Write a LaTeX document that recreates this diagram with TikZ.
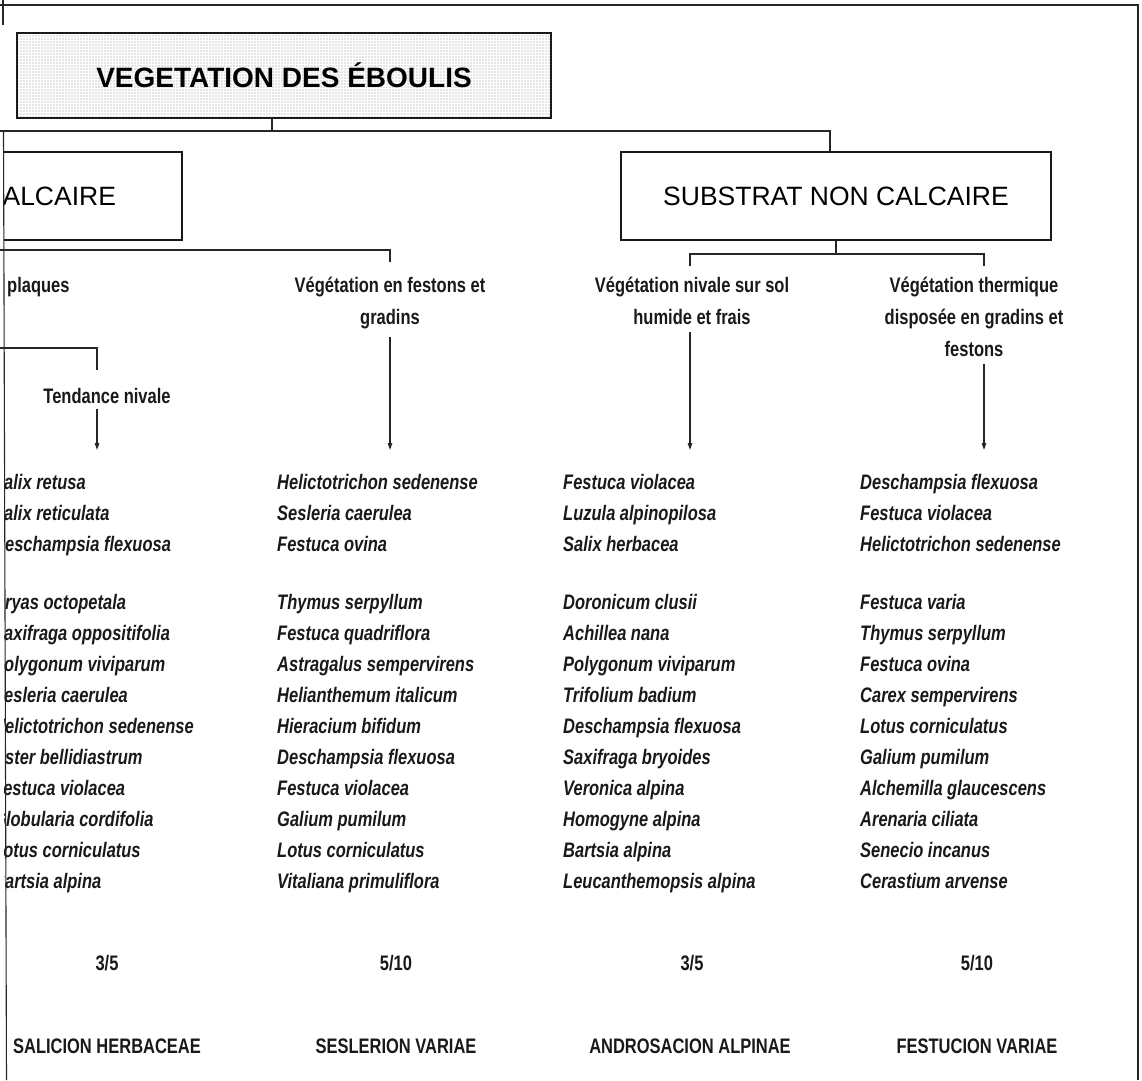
\documentclass[tikz,border=0pt]{standalone}
\usepackage{fontspec}
\setmainfont{Liberation Sans}
\newfontfamily\cnd[FakeStretch=0.785]{Liberation Sans}
\usetikzlibrary{arrows.meta,patterns.meta}

\begin{document}
\begin{tikzpicture}[x=1pt,y=-1pt,
  conn/.style={line width=1.1pt, black!85},
  arr/.style={conn, -{Triangle[length=7pt,width=4.5pt]}},
  boxline/.style={draw=black!90, line width=2pt},
  titlebox/.style={boxline, pattern={Dots[radius=0.55pt,distance=3pt]}, pattern color=black!45,
    font=\bfseries\fontsize{28}{32}\selectfont, inner sep=0pt},
  bigbox/.style={boxline, fill=white, font=\fontsize{26.5}{30}\selectfont, inner ysep=0pt},
  hdr/.style={font=\cnd\bfseries\fontsize{21}{32}\selectfont, text=black!90, inner sep=0pt, anchor=base},
  species/.style={font=\cnd\bfseries\itshape\fontsize{21}{31}\selectfont, text=black!90, inner sep=0pt, anchor=base west},
  lab/.style={font=\cnd\bfseries\fontsize{21}{24}\selectfont, text=black!90, inner sep=0pt, anchor=base},
]
\useasboundingbox (0,0) rectangle (1142,1080);

% outer frame
\draw[conn] (0,5) -- (1138,5) -- (1138,1080);

\begin{scope}
\clip (4,-2) rectangle (1144,1082);

% top level
\node[titlebox, minimum width=534pt, minimum height=85pt] (title) at (284,75.5) {VEGETATION DES ÉBOULIS};
\node[bigbox, anchor=east, minimum height=88pt, inner xsep=66pt] (calc) at (183,196) {SUBSTRAT CALCAIRE};
\node[bigbox, minimum width=430pt, minimum height=88pt] (sub) at (836,196) {SUBSTRAT NON CALCAIRE};
\end{scope}

\coordinate (tj) at (272,131);
\coordinate (tl) at (0,131);
\coordinate (sj) at (830,131);
\draw[conn] (title.south -| tj) -- (tj);
\draw[conn] (tl) -- (sj) -- (sj |- sub.north);

% branches under the two substrates
\coordinate (cl) at (0,250);
\coordinate (cr) at (390,250);
\coordinate (crt) at (390,262);
\draw[conn] (cl) -- (cr) -- (crt);

\coordinate (sb) at (836,254);
\coordinate (sbl) at (690,254);
\coordinate (sbr) at (984,254);
\draw[conn] (sub.south) -- (sb);
\draw[conn] (sbl |- 0,266) -- (sbl) -- (sbr) -- (sbr |- 0,266);

% sub-branch of the first column
\coordinate (ql) at (0,348);
\coordinate (qr) at (97,348);
\coordinate (qt) at (97,370);
\draw[conn] (ql) -- (qr) -- (qt);

\begin{scope}
\clip (4,-2) rectangle (1144,1082);

% column headers
\node[hdr, anchor=base west] (h1a) at (7,292) {plaques};
\node[hdr] (h2a) at (390,292) {Végétation en festons et};
\node[hdr] (h2b) at (390,324) {gradins};
\node[hdr] (h3a) at (692,292) {Végétation nivale sur sol};
\node[hdr] (h3b) at (692,324) {humide et frais};
\node[hdr] (h4a) at (974,292) {Végétation thermique};
\node[hdr] (h4b) at (974,324) {disposée en gradins et};
\node[hdr] (h4c) at (974,356) {festons};
\node[hdr] (h1b) at (107,403) {Tendance nivale};

% species lists
\foreach \s [count=\i] in {Salix retusa, Salix reticulata, Deschampsia flexuosa}
  \node[species] (c1a\i) at (-7,489+31*\i-31) {\s};
\foreach \s [count=\i] in {Dryas octopetala, Saxifraga oppositifolia, Polygonum viviparum,
    Sesleria caerulea, Helictotrichon sedenense, Aster bellidiastrum, Festuca violacea,
    Globularia cordifolia, Lotus corniculatus, Bartsia alpina}
  \node[species] (c1b\i) at (-7,609+31*\i-31) {\s};

\foreach \s [count=\i] in {Helictotrichon sedenense, Sesleria caerulea, Festuca ovina}
  \node[species] (c2a\i) at (277,489+31*\i-31) {\s};
\foreach \s [count=\i] in {Thymus serpyllum, Festuca quadriflora, Astragalus sempervirens,
    Helianthemum italicum, Hieracium bifidum, Deschampsia flexuosa, Festuca violacea,
    Galium pumilum, Lotus corniculatus, Vitaliana primuliflora}
  \node[species] (c2b\i) at (277,609+31*\i-31) {\s};

\foreach \s [count=\i] in {Festuca violacea, Luzula alpinopilosa, Salix herbacea}
  \node[species] (c3a\i) at (563,489+31*\i-31) {\s};
\foreach \s [count=\i] in {Doronicum clusii, Achillea nana, Polygonum viviparum,
    Trifolium badium, Deschampsia flexuosa, Saxifraga bryoides, Veronica alpina,
    Homogyne alpina, Bartsia alpina, Leucanthemopsis alpina}
  \node[species] (c3b\i) at (563,609+31*\i-31) {\s};

\foreach \s [count=\i] in {Deschampsia flexuosa, Festuca violacea, Helictotrichon sedenense}
  \node[species] (c4a\i) at (860,489+31*\i-31) {\s};
\foreach \s [count=\i] in {Festuca varia, Thymus serpyllum, Festuca ovina,
    Carex sempervirens, Lotus corniculatus, Galium pumilum, Alchemilla glaucescens,
    Arenaria ciliata, Senecio incanus, Cerastium arvense}
  \node[species] (c4b\i) at (860,609+31*\i-31) {\s};

% ratios and alliances
\node[lab] (r1) at (107,970) {3/5};
\node[lab] (r2) at (396,970) {5/10};
\node[lab] (r3) at (692,970) {3/5};
\node[lab] (r4) at (977,970) {5/10};
\node[lab] (n1) at (107,1053) {SALICION HERBACEAE};
\node[lab] (n2) at (396,1053) {SESLERION VARIAE};
\node[lab] (n3) at (690,1053) {ANDROSACION ALPINAE};
\node[lab] (n4) at (977,1053) {FESTUCION VARIAE};
\end{scope}

% arrows towards the species lists
\coordinate (e1) at (97,450);
\coordinate (e2) at (390,450);
\coordinate (e3) at (690,450);
\coordinate (e4) at (984,450);
\draw[arr] (h1b.south -| e1) ++(0,6) -- (e1);
\draw[arr] (h2b.south -| e2) ++(0,8) -- (e2);
\draw[arr] (h3b.south -| e3) ++(0,8) -- (e3);
\draw[arr] (h4c.south -| e4) ++(0,8) -- (e4);

% left edge rule
\draw[conn] (3,0) -- (3,25);
\draw[conn] (3.5,131) -- (6.5,1080);
\end{tikzpicture}
\end{document}
